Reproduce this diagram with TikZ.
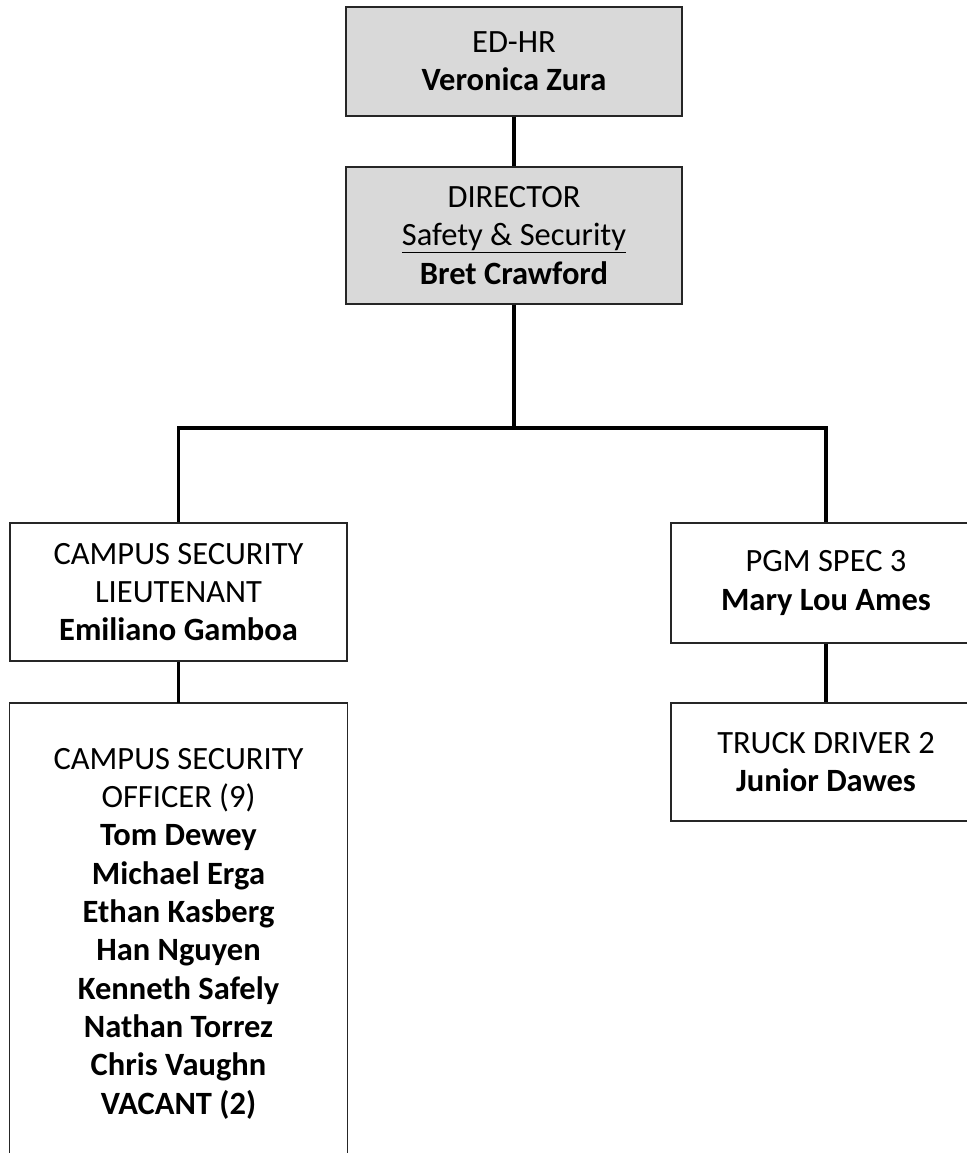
\documentclass[tikz,border=0pt]{standalone}
\usepackage{fontspec}
\setmainfont{Carlito}
\begin{document}
\begin{tikzpicture}[x=1pt,y=-1pt,
  box/.style={draw=black!85, line width=1.2pt, align=center, inner sep=0pt,
    font=\fontsize{32.5}{38.3}\selectfont},
  gbox/.style={box, fill=black!15},
  conn/.style={line width=3.4pt, black}]
\useasboundingbox (0,0) rectangle (966,1153);
\node[gbox, minimum width=336, minimum height=109] (ed) at (514,61.5) {ED-HR\\\textbf{Veronica Zura}};
\node[gbox, minimum width=336, minimum height=137] (dir) at (514,235.5) {DIRECTOR\\\underline{Safety \& Security}\\\textbf{Bret Crawford}};
\node[box, minimum width=337, minimum height=138] (lt) at (178.5,592) {CAMPUS SECURITY\\LIEUTENANT\\\textbf{Emiliano Gamboa}};
\node[box, minimum width=310, minimum height=120] (pgm) at (826,583) {PGM SPEC 3\\\textbf{Mary Lou Ames}};
\node[box, minimum width=310, minimum height=118] (tr) at (826,762) {TRUCK DRIVER 2\\\textbf{Junior Dawes}};
\node[minimum width=337, minimum height=470, inner sep=0pt, anchor=north] (off) at (178.5,703) {};
\draw[draw=black!85, line width=1.2pt] (off.south west) -- (off.north west) -- (off.north east) -- (off.south east);
\node[anchor=north, align=center, inner sep=0pt, font=\fontsize{32.5}{38.3}\selectfont] (offt) at (178.5,748)
  {CAMPUS SECURITY\\OFFICER (9)\\\textbf{Tom Dewey}\\\textbf{Michael Erga}\\\textbf{Ethan Kasberg}\\\textbf{Han Nguyen}\\\textbf{Kenneth Safely}\\\textbf{Nathan Torrez}\\\textbf{Chris Vaughn}\\\textbf{VACANT (2)}};
\coordinate (bus) at (514,428);
\draw[conn] (ed.south) -- (dir.north);
\draw[conn] (dir.south) -- (bus);
\draw[conn] (lt.north) |- (bus) -| (pgm.north);
\draw[conn] (lt.south) -- (off.north);
\draw[conn] (pgm.south) -- (tr.north);
\end{tikzpicture}
\end{document}
